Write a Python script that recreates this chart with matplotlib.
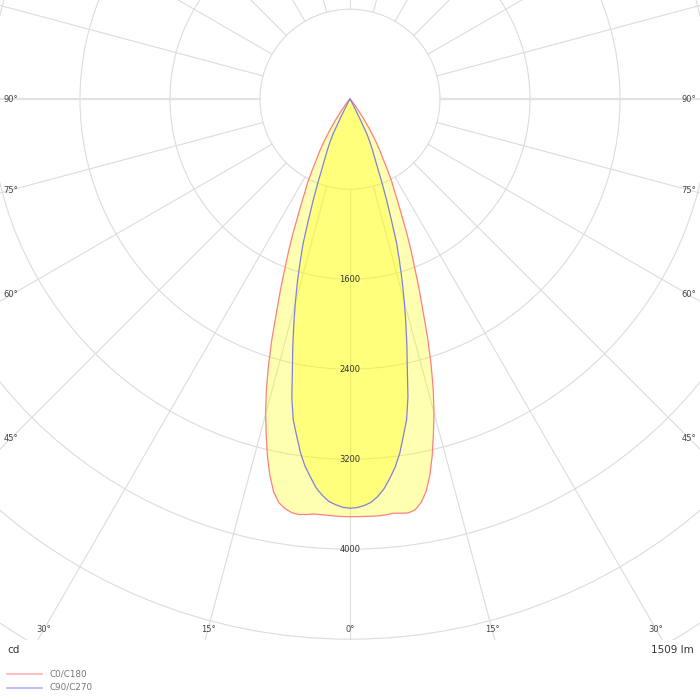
import numpy as np
import matplotlib.pyplot as plt
from matplotlib.patches import Circle
from matplotlib.lines import Line2D

# ------------------------------------------------------------
# photometric data (cd), gamma angles in degrees from nadir
# ------------------------------------------------------------
gamma_red = [0, 1, 2, 3, 4, 5, 6, 7, 8, 9, 10, 11, 12, 13, 14, 15, 16, 17, 18, 19,
             20, 21, 22, 23, 24, 25, 26, 27, 28, 29, 30, 31, 32, 33, 34, 35, 36, 37, 38,
             40, 45, 50, 60, 70, 80, 90]
c0 = [3711, 3711, 3711, 3712, 3712, 3708, 3700, 3708, 3714, 3696, 3640, 3550, 3415, 3250,
      3065, 2885, 2685, 2465, 2235, 1995, 1795, 1605, 1445, 1285, 1130, 1005, 895, 810,
      705, 605, 540, 470, 395, 325, 255, 200, 150, 115, 85, 50, 22, 10, 4, 2, 1, 0]
c180 = [3711, 3710, 3708, 3704, 3702, 3701, 3712, 3720, 3712, 3686, 3642, 3556, 3422, 3262,
        3078, 2898, 2700, 2480, 2250, 2010, 1810, 1620, 1458, 1298, 1142, 1018, 908, 822,
        718, 618, 552, 482, 406, 336, 266, 210, 160, 122, 92, 58, 26, 12, 5, 2, 1, 0]

gamma_blue = [0, 1, 2, 3, 4, 5, 6, 7, 8, 9, 10, 11, 12, 13, 14, 15, 16, 17, 18, 19,
              20, 21, 22, 23, 24, 25, 26, 27, 28, 30, 35, 40, 50, 60, 70, 80, 90]
c90 = [3636, 3631, 3614, 3588, 3540, 3476, 3388, 3295, 3178, 3032, 2895, 2700, 2450, 2248,
       2052, 1866, 1684, 1505, 1335, 1118, 948, 788, 648, 556, 486, 416, 336, 176, 88,
       38, 14, 7, 3, 1, 0, 0, 0]
c270 = [3636, 3628, 3608, 3580, 3530, 3466, 3375, 3285, 3170, 3030, 2900, 2710, 2462, 2262,
        2066, 1880, 1700, 1520, 1350, 1132, 960, 800, 660, 566, 494, 424, 344, 184, 92,
        40, 15, 8, 3, 1, 0, 0, 0]

ring_values = [800, 1600, 2400, 3200, 4000, 4800, 5600, 6400, 7200, 8000]
ring_labels = [1600, 2400, 3200, 4000]
spoke_angles = list(range(0, 360, 15))
edge_labels = [0, 15, 30, 45, 60, 75, 90]

series_names = ["C0/C180", "C90/C270"]
flux_text = "1509 lm"
unit_text = "cd"

# ------------------------------------------------------------
# layout (pixels -> cd)
# ------------------------------------------------------------
CD_PER_PX = 800 / 90
CX, CY = 350, 99.2
PLOT_H = 640

fig = plt.figure(figsize=(7, 7), dpi=100)
ax = fig.add_axes([0, 1 - PLOT_H / 700, 1, PLOT_H / 700])
ax.set_xlim(-CX * CD_PER_PX, (700 - CX) * CD_PER_PX)
ax.set_ylim(-(PLOT_H - CY) * CD_PER_PX, CY * CD_PER_PX)
ax.axis("off")

grid_col = "#dcdcdc"

# circles
for r in ring_values:
    ax.add_patch(Circle((0, 0), r, fill=False, edgecolor=grid_col, lw=0.8, zorder=1))

# spokes, starting at the first circle
for a in spoke_angles:
    t = np.radians(a)
    lw = 1.6 if a in (90, 270) else 0.8
    ax.plot([800 * np.sin(t), 20000 * np.sin(t)], [-800 * np.cos(t), -20000 * np.cos(t)],
            color="#e2e2e2" if a in (90, 270) else grid_col, lw=lw, zorder=1)


def curve_xy(gammas, right, left):
    g = np.radians(np.array(gammas, dtype=float))
    right = np.array(right, dtype=float)
    left = np.array(left, dtype=float)
    xs = np.concatenate([-left[::-1] * np.sin(g[::-1]), right * np.sin(g)])
    ys = np.concatenate([-left[::-1] * np.cos(g[::-1]), -right * np.cos(g)])
    return xs, ys


xr, yr = curve_xy(gamma_red, c0, c180)
xb, yb = curve_xy(gamma_blue, c90, c270)

red_col = "#ff7f7f"
blue_col = "#8080e0"

ax.fill(xr, yr, color="#ffff00", alpha=0.3, lw=0, zorder=2)
ax.fill(xb, yb, color="#ffff00", alpha=0.3, lw=0, zorder=2)
ax.plot(xr, yr, color=red_col, lw=0.9, zorder=3)
ax.plot(xb, yb, color=blue_col, lw=0.9, zorder=3)

# ring labels
for v in ring_labels:
    ax.text(0, -v, str(v), ha="center", va="center", fontsize=6, color="#333333", zorder=4)

# angle labels along the frame
x_edge = (CX - 11) * CD_PER_PX
y_edge = (629 - CY) * CD_PER_PX
for a in edge_labels:
    t = np.radians(a)
    if a > 0 and x_edge / np.tan(t) < y_edge:
        y = -x_edge / np.tan(t)
        for sx in (-1, 1):
            ax.text(sx * x_edge, y, f"{a}°", ha="center", va="center", fontsize=6,
                    color="#444444", zorder=4, clip_on=False)
    else:
        x = y_edge * np.tan(t)
        for sx in ((-1, 1) if a > 0 else (1,)):
            ax.text(sx * x, -y_edge, f"{a}°", ha="center", va="center", fontsize=6,
                    color="#444444", zorder=4, clip_on=False)

# footer texts
fig.text(7 / 700, 1 - 650 / 700, unit_text, ha="left", va="center", fontsize=7.5, color="#333333")
fig.text(694 / 700, 1 - 650 / 700, flux_text, ha="right", va="center", fontsize=7.5, color="#333333")

# legend
for i, (name, col) in enumerate(zip(series_names, ["#ffb8b8", "#b8b8ff"])):
    yy = 1 - (674 + i * 13.5) / 700
    fig.add_artist(Line2D([7 / 700, 42 / 700], [yy, yy], color=col, lw=1.3))
    fig.text(49 / 700, yy, name, ha="left", va="center", fontsize=6.3, color="#777777")

fig.savefig("out.png", dpi=100)
